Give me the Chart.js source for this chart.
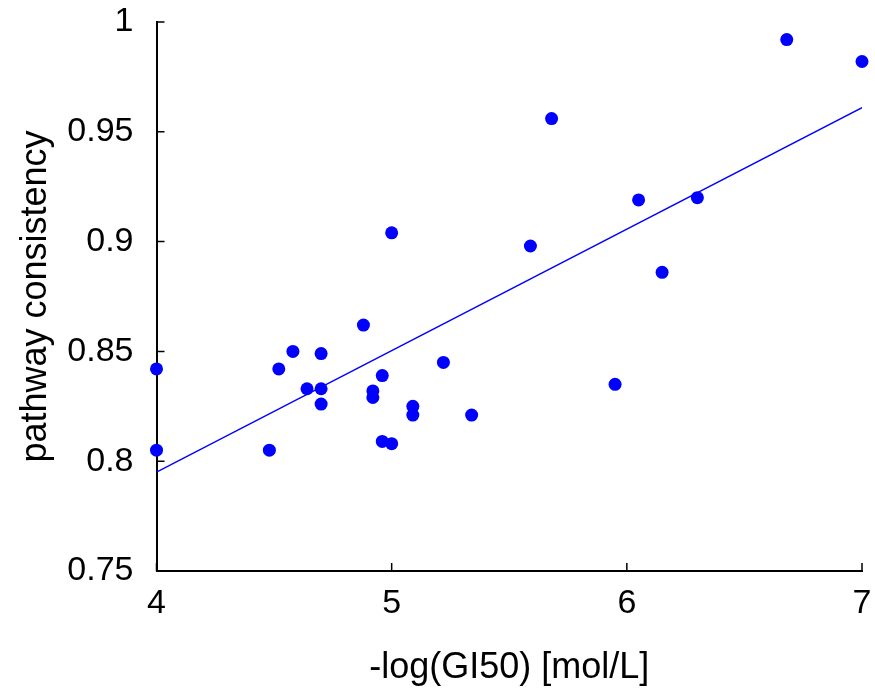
<!DOCTYPE html>
<html>
<head>
<meta charset="utf-8">
<script src="https://cdn.jsdelivr.net/npm/chart.js@4"></script>
<style>
  html, body { margin: 0; padding: 0; background: #fff; }
  #wrap { width: 875px; height: 690px; position: relative; }
</style>
</head>
<body>
<div id="wrap"><canvas id="scatterChart"></canvas></div>
<script>
const xValues = [4.00, 4.00, 4.48, 4.52, 4.58, 4.64, 4.70, 4.70, 4.70, 4.88, 4.92, 4.92, 4.96, 4.96,
  5.00, 5.00, 5.09, 5.09, 5.22, 5.34, 5.59, 5.68, 5.95, 6.05, 6.15, 6.30, 6.68, 7.00];
const yValues = [0.842, 0.805, 0.805, 0.842, 0.850, 0.833, 0.849, 0.833, 0.826, 0.862, 0.832, 0.829, 0.839, 0.809,
  0.808, 0.904, 0.825, 0.821, 0.845, 0.821, 0.898, 0.956, 0.835, 0.919, 0.886, 0.920, 0.992, 0.982];
// fitted line at both ends
const fitX = [4, 7];
const fitY = [0.795, 0.961];
const xTickLabels = ["4", "5", "6", "7"];
const yTickLabels = ["0.75", "0.8", "0.85", "0.9", "0.95", "1"];

const FONT = { family: "'Liberation Sans', Arial, sans-serif", size: 34 };
const TITLE_FONT = { family: "'Liberation Sans', Arial, sans-serif", size: 36 };

/**
 * small tick marks pointing into the plot (matlab style)
 */
const inwardTicks = {
  id: "inwardTicks",
  beforeDatasetsDraw(chart) {
    const { ctx, chartArea, scales } = chart;
    const len = 8;
    ctx.save();
    ctx.strokeStyle = "#000";
    ctx.lineWidth = 1.5;
    ctx.beginPath();
    scales.x.ticks.forEach((t) => {
      const px = scales.x.getPixelForValue(t.value);
      ctx.moveTo(px, chartArea.bottom);
      ctx.lineTo(px, chartArea.bottom - len);
    });
    scales.y.ticks.forEach((t) => {
      const py = scales.y.getPixelForValue(t.value);
      ctx.moveTo(chartArea.left, py);
      ctx.lineTo(chartArea.left + len, py);
    });
    ctx.stroke();
    ctx.restore();
  },
};

const ctx = document.getElementById("scatterChart").getContext("2d");

new Chart(ctx, {
  type: "scatter",
  data: {
    datasets: [
      {
        label: "fit",
        data: fitX.map((x, i) => ({ x: x, y: fitY[i] })),
        showLine: true,
        borderColor: "#0000ff",
        borderWidth: 1.3,
        pointRadius: 0,
        fill: false,
      },
      {
        label: "drugs",
        data: xValues.map((x, i) => ({ x: x, y: yValues[i] })),
        backgroundColor: "#0000ff",
        borderColor: "#0000ff",
        borderWidth: 0,
        pointRadius: 6.5,
        clip: false,
      },
    ],
  },
  options: {
    responsive: true,
    maintainAspectRatio: false,
    animation: false,
    layout: { padding: { top: 22, right: 13, left: 0, bottom: 0 } },
    plugins: {
      legend: { display: false },
      tooltip: { enabled: false },
    },
    scales: {
      x: {
        type: "linear",
        min: 4,
        max: 7,
        afterFit: (s) => {
          s.height = 119;
          s.paddingLeft = 0;
          s.paddingRight = 0;
        },
        grid: { display: false },
        border: { display: true, color: "#000", width: 2 },
        ticks: {
          stepSize: 1,
          color: "#000",
          font: FONT,
          padding: 4,
          maxRotation: 0,
          callback: (v, i) => xTickLabels[i],
        },
        title: {
          display: true,
          text: "-log(GI50) [mol/L]",
          color: "#000",
          font: TITLE_FONT,
          padding: { top: 1, bottom: 0 },
        },
      },
      y: {
        type: "linear",
        min: 0.75,
        max: 1,
        afterFit: (s) => {
          s.width = 156.5;
          s.paddingTop = 0;
          s.paddingBottom = 0;
        },
        grid: { display: false },
        border: { display: true, color: "#000", width: 2 },
        ticks: {
          stepSize: 0.05,
          color: "#000",
          font: FONT,
          padding: 15,
          callback: (v, i) => yTickLabels[i],
        },
        title: {
          display: true,
          text: "pathway consistency",
          color: "#000",
          font: TITLE_FONT,
          padding: { top: 14, bottom: 0 },
        },
      },
    },
  },
  plugins: [inwardTicks],
});
</script>
</body>
</html>
